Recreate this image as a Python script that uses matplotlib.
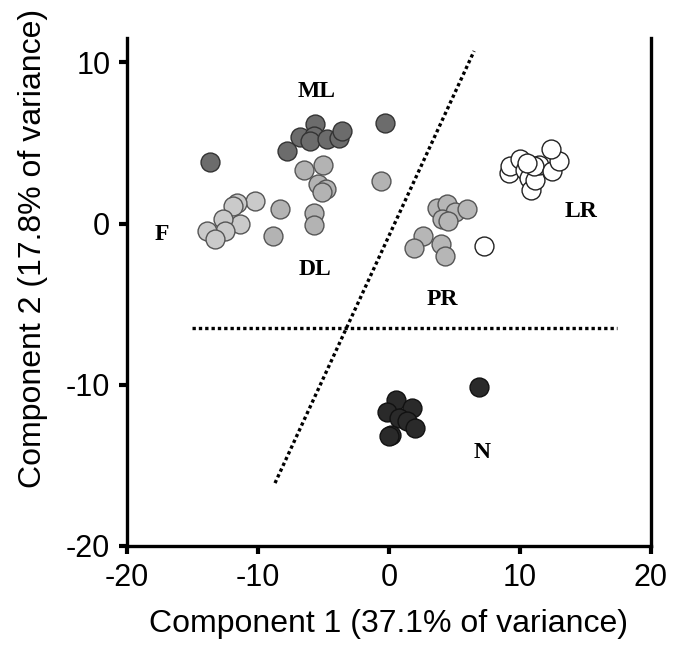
import matplotlib
matplotlib.use("Agg")
import matplotlib.pyplot as plt

plt.rcParams["axes.unicode_minus"] = False

# --- data ------------------------------------------------------------------
ml_x = [-13.64, -7.79, -6.77, -5.67, -5.70, -6.00, -4.73, -3.84, -3.59, -0.28]
ml_y = [3.81, 4.49, 5.38, 6.15, 5.42, 5.11, 5.26, 5.32, 5.73, 6.25]

dl_x = [-6.51, -5.04, -5.42, -4.81, -5.11, -0.59, -5.70, -5.70, -8.35, -8.85]
dl_y = [3.35, 3.60, 2.42, 2.11, 1.95, 2.63, 0.66, -0.12, 0.87, -0.75]

f_x = [-10.25, -11.60, -11.93, -11.35, -12.70, -12.54, -13.89, -13.26]
f_y = [1.39, 1.28, 1.07, 0.00, 0.25, -0.48, -0.48, -0.99]

pr_x = [3.66, 4.43, 5.01, 5.95, 4.05, 4.50, 2.60, 1.88, 3.99, 4.25]
pr_y = [0.97, 1.18, 0.70, 0.87, 0.25, 0.14, -0.75, -1.51, -1.30, -1.99]

lr_x = [7.23, 9.14, 9.26, 10.03, 10.36, 10.66, 10.87, 11.17, 11.43, 11.04,
        12.44, 12.95, 12.39, 10.53]
lr_y = [-1.37, 3.15, 3.56, 4.02, 3.35, 2.84, 2.07, 2.69, 3.66, 3.56,
        3.25, 3.87, 4.60, 3.77]

n_x = [6.90, 0.53, -0.15, 1.76, 0.74, 1.37, 2.01, 0.18, 0.02]
n_y = [-10.14, -10.93, -11.72, -11.45, -12.07, -12.22, -12.69, -13.11, -13.17]

group_labels = ["ML", "F", "DL", "PR", "LR", "N"]
label_x = [-5.5, -17.3, -5.65, 4.05, 14.7, 7.1]
label_y = [8.2, -0.7, -2.86, -4.72, 0.75, -14.2]

# dotted separators
hline_x = [-15.0, 17.4]
hline_y = [-6.46, -6.46]
dline_x = [-8.7, 6.5]
dline_y = [-16.1, 10.7]

# --- figure ------------------------------------------------------------------
fig = plt.figure(figsize=(6.74, 6.57), dpi=100)
ax = fig.add_axes([0.1884, 0.169, 0.7774, 0.773])

ms = 185
ax.scatter(f_x, f_y, s=ms, c="#cacaca", edgecolors="#555555", linewidths=1, zorder=3)
ax.scatter(dl_x, dl_y, s=ms, c="#b3b3b3", edgecolors="#555555", linewidths=1, zorder=3)
ax.scatter(pr_x, pr_y, s=ms, c="#b6b6b6", edgecolors="#555555", linewidths=1, zorder=3)
ax.scatter(ml_x, ml_y, s=ms, c="#6c6c6c", edgecolors="#333333", linewidths=1, zorder=3)
ax.scatter(lr_x, lr_y, s=ms, c="white", edgecolors="#222222", linewidths=1, zorder=3)
ax.scatter(n_x, n_y, s=ms, c="#2a2a2a", edgecolors="#111111", linewidths=1, zorder=3)

ax.plot(hline_x, hline_y, color="black", lw=2.4, linestyle=(0, (1, 0.9)), zorder=2)
ax.plot(dline_x, dline_y, color="black", lw=2.4, linestyle=(0, (1, 0.9)), zorder=2)

for t, x, y in zip(group_labels, label_x, label_y):
    ax.text(x, y, t, ha="center", va="center", fontsize=17, fontweight="bold",
            family="Liberation Serif", zorder=4)

ax.set_xlim(-20, 20)
ax.set_ylim(-20, 11.5)
ax.set_xticks([-20, -10, 0, 10, 20])
ax.set_yticks([-20, -10, 0, 10])

for side in ("left", "right", "bottom"):
    ax.spines[side].set_linewidth(2.4)
ax.spines["top"].set_visible(False)
ax.tick_params(direction="out", length=6, width=3, labelsize=22, pad=6)
for lbl in ax.get_xticklabels() + ax.get_yticklabels():
    lbl.set_family("Liberation Sans")

ax.set_xlabel("Component 1 (37.1% of variance)", fontsize=23,
              family="Liberation Sans", labelpad=12)
ax.set_ylabel("Component 2 (17.8% of variance)", fontsize=23,
              family="Liberation Sans")
ax.yaxis.set_label_coords(-0.151, 0.585)

fig.savefig("out.png", dpi=100)
